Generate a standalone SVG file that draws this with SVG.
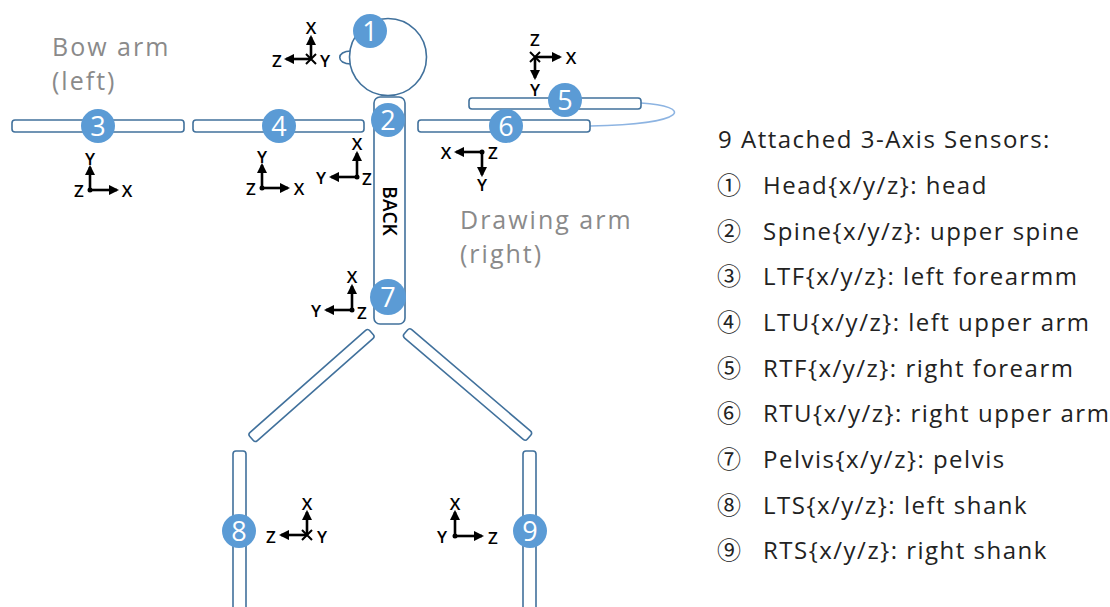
<svg xmlns="http://www.w3.org/2000/svg" width="1110" height="607" viewBox="0 0 1110 607">
<defs>
<marker id="ah" viewBox="0 0 10 10" refX="8" refY="5" markerWidth="4" markerHeight="4" orient="auto" markerUnits="strokeWidth">
<path d="M0,0 L10,5 L0,10 z" fill="#000"/>
</marker>
<style>
.seg{fill:#fff;stroke:#41719C;stroke-width:1.6}
.badge{fill:#5B9BD5}
.bn{font-family:"Open Sans","Noto Sans",sans-serif;font-size:27px;fill:#fff;text-anchor:middle}
.ax{stroke:#000;stroke-width:2.6;fill:none;marker-end:url(#ah)}
.al{font-family:"Open Sans","Noto Sans",sans-serif;font-size:17px;font-weight:600;fill:#000;text-anchor:middle;dominant-baseline:central}
.gray{font-family:"Open Sans","Noto Sans",sans-serif;font-size:25px;letter-spacing:2px;fill:#8a8a8a}
.lg{font-family:"Open Sans","Noto Sans",sans-serif;font-size:24px;letter-spacing:1.5px;fill:#222}
.cn{font-family:"Noto Sans CJK KR",sans-serif;font-size:24px;fill:#222}
</style>
</defs>
<rect width="1110" height="607" fill="#fff"/>

<g id="connectors">
<path d="M641,103 C692,106 692,124 590,126" fill="none" stroke="#8DB4E2" stroke-width="1.5"/>
</g>

<g id="head">
<path d="M351,51 C336,51 336,64 351,64" class="seg"/>
<circle cx="388" cy="57" r="38.5" class="seg" stroke-width="2"/>
<circle cx="370" cy="31" r="17" class="badge"/>
<text x="370" y="41" class="bn">1</text>
</g>

<g id="spine">
<rect x="374" y="97" width="31" height="227" rx="6" class="seg"/>
<text x="390" y="211" transform="rotate(90 390 211)" text-anchor="middle" dominant-baseline="central" font-family="Open Sans,Noto Sans,sans-serif" font-size="19" font-weight="600" fill="#000">BACK</text>
<circle cx="388" cy="120" r="17" class="badge"/>
<text x="388" y="130" class="bn">2</text>
</g>

<g id="pelvis">
<circle cx="388" cy="297" r="18" class="badge"/>
<text x="388" y="307" class="bn">7</text>
</g>

<g id="left-forearm">
<rect x="12" y="120" width="172" height="12" rx="3" class="seg"/>
<circle cx="98" cy="126" r="17" class="badge"/>
<text x="98" y="136" class="bn">3</text>
</g>

<g id="left-upper-arm">
<rect x="193" y="120" width="171" height="12" rx="3" class="seg"/>
<circle cx="279" cy="126" r="17" class="badge"/>
<text x="279" y="136" class="bn">4</text>
</g>

<g id="right-forearm">
<rect x="469" y="98" width="172" height="11" rx="3" class="seg"/>
<circle cx="565" cy="100" r="17" class="badge"/>
<text x="565" y="110" class="bn">5</text>
</g>

<g id="right-upper-arm">
<rect x="418" y="120" width="172" height="12" rx="3" class="seg"/>
<circle cx="506" cy="126" r="17" class="badge"/>
<text x="506" y="136" class="bn">6</text>
</g>

<g id="left-thigh">
<rect x="-80" y="-5.5" width="160" height="11" rx="3" class="seg" transform="translate(311.5 385.5) rotate(-41.4)"/>
</g>
<g id="right-thigh">
<rect x="-81" y="-5.5" width="162" height="11" rx="3" class="seg" transform="translate(467.5 384.5) rotate(40.5)"/>
</g>

<g id="left-shank">
<rect x="233" y="451" width="13" height="170" rx="3" class="seg"/>
<circle cx="239" cy="531" r="17" class="badge"/>
<text x="239" y="541" class="bn">8</text>
</g>
<g id="right-shank">
<rect x="523" y="451" width="13" height="170" rx="3" class="seg"/>
<circle cx="530" cy="531" r="17" class="badge"/>
<text x="530" y="541" class="bn">9</text>
</g>

<g id="axes">
<!-- head -->
<line x1="311" y1="59" x2="311" y2="37" class="ax"/>
<line x1="311" y1="59" x2="286" y2="59" class="ax"/>
<path d="M306,54 L316,64 M316,54 L306,64" stroke="#000" stroke-width="2"/>
<text x="311" y="27" class="al">X</text>
<text x="277" y="60" class="al">Z</text>
<text x="325" y="60" class="al">Y</text>
<!-- right forearm -->
<line x1="535" y1="57" x2="560" y2="57" class="ax"/>
<line x1="535" y1="57" x2="535" y2="78" class="ax"/>
<path d="M530,52 L540,62 M540,52 L530,62" stroke="#000" stroke-width="2"/>
<text x="535" y="39" class="al">Z</text>
<text x="571" y="57" class="al">X</text>
<text x="535" y="89" class="al">Y</text>
<!-- left forearm -->
<line x1="90" y1="190" x2="90" y2="167" class="ax"/>
<line x1="90" y1="190" x2="117" y2="190" class="ax"/>
<circle cx="90" cy="190" r="2.5" fill="#000"/>
<text x="90" y="158" class="al">Y</text>
<text x="79" y="190" class="al">Z</text>
<text x="127" y="190" class="al">X</text>
<!-- left upper arm -->
<line x1="262" y1="188" x2="262" y2="165" class="ax"/>
<line x1="262" y1="188" x2="288" y2="188" class="ax"/>
<circle cx="262" cy="188" r="2.5" fill="#000"/>
<text x="262" y="156" class="al">Y</text>
<text x="251" y="188" class="al">Z</text>
<text x="299" y="188" class="al">X</text>
<!-- spine -->
<line x1="357" y1="177" x2="357" y2="153" class="ax"/>
<line x1="357" y1="177" x2="331" y2="177" class="ax"/>
<circle cx="357" cy="177" r="2.5" fill="#000"/>
<text x="357" y="143" class="al">X</text>
<text x="321" y="177" class="al">Y</text>
<text x="367" y="178" class="al">Z</text>
<!-- right upper arm -->
<line x1="482" y1="152" x2="456" y2="152" class="ax"/>
<line x1="482" y1="152" x2="482" y2="175" class="ax"/>
<circle cx="482" cy="152" r="2.5" fill="#000"/>
<text x="446" y="152" class="al">X</text>
<text x="493" y="152" class="al">Z</text>
<text x="482" y="184" class="al">Y</text>
<!-- pelvis -->
<line x1="352" y1="310" x2="352" y2="286" class="ax"/>
<line x1="352" y1="310" x2="326" y2="310" class="ax"/>
<circle cx="352" cy="310" r="2.5" fill="#000"/>
<text x="352" y="276" class="al">X</text>
<text x="316" y="310" class="al">Y</text>
<text x="362" y="312" class="al">Z</text>
<!-- left shank -->
<line x1="307" y1="535" x2="307" y2="512" class="ax"/>
<line x1="307" y1="535" x2="281" y2="535" class="ax"/>
<path d="M302,530 L312,540 M312,530 L302,540" stroke="#000" stroke-width="2"/>
<text x="307" y="503" class="al">X</text>
<text x="271" y="536" class="al">Z</text>
<text x="322" y="536" class="al">Y</text>
<!-- right shank -->
<line x1="455" y1="536" x2="455" y2="512" class="ax"/>
<line x1="455" y1="536" x2="482" y2="536" class="ax"/>
<circle cx="455" cy="536" r="2.5" fill="#000"/>
<text x="455" y="503" class="al">X</text>
<text x="442" y="536" class="al">Y</text>
<text x="493" y="537" class="al">Z</text>
</g>

<g id="labels">
<text x="52" y="56" class="gray">Bow arm</text>
<text x="52" y="90" class="gray">(left)</text>
<text x="460" y="229" class="gray">Drawing arm</text>
<text x="460" y="263" class="gray">(right)</text>
</g>

<g id="legend">
<text x="718" y="148" class="lg">9 Attached 3-Axis Sensors:</text>
<text x="717" y="194" class="cn">①</text><text x="763" y="194" class="lg">Head{x/y/z}: head</text>
<text x="717" y="240" class="cn">②</text><text x="763" y="240" class="lg">Spine{x/y/z}: upper spine</text>
<text x="717" y="285" class="cn">③</text><text x="763" y="285" class="lg">LTF{x/y/z}: left forearmm</text>
<text x="717" y="331" class="cn">④</text><text x="763" y="331" class="lg">LTU{x/y/z}: left upper arm</text>
<text x="717" y="377" class="cn">⑤</text><text x="763" y="377" class="lg">RTF{x/y/z}: right forearm</text>
<text x="717" y="422" class="cn">⑥</text><text x="763" y="422" class="lg">RTU{x/y/z}: right upper arm</text>
<text x="717" y="468" class="cn">⑦</text><text x="763" y="468" class="lg">Pelvis{x/y/z}: pelvis</text>
<text x="717" y="514" class="cn">⑧</text><text x="763" y="514" class="lg">LTS{x/y/z}: left shank</text>
<text x="717" y="559" class="cn">⑨</text><text x="763" y="559" class="lg">RTS{x/y/z}: right shank</text>
</g>
</svg>
